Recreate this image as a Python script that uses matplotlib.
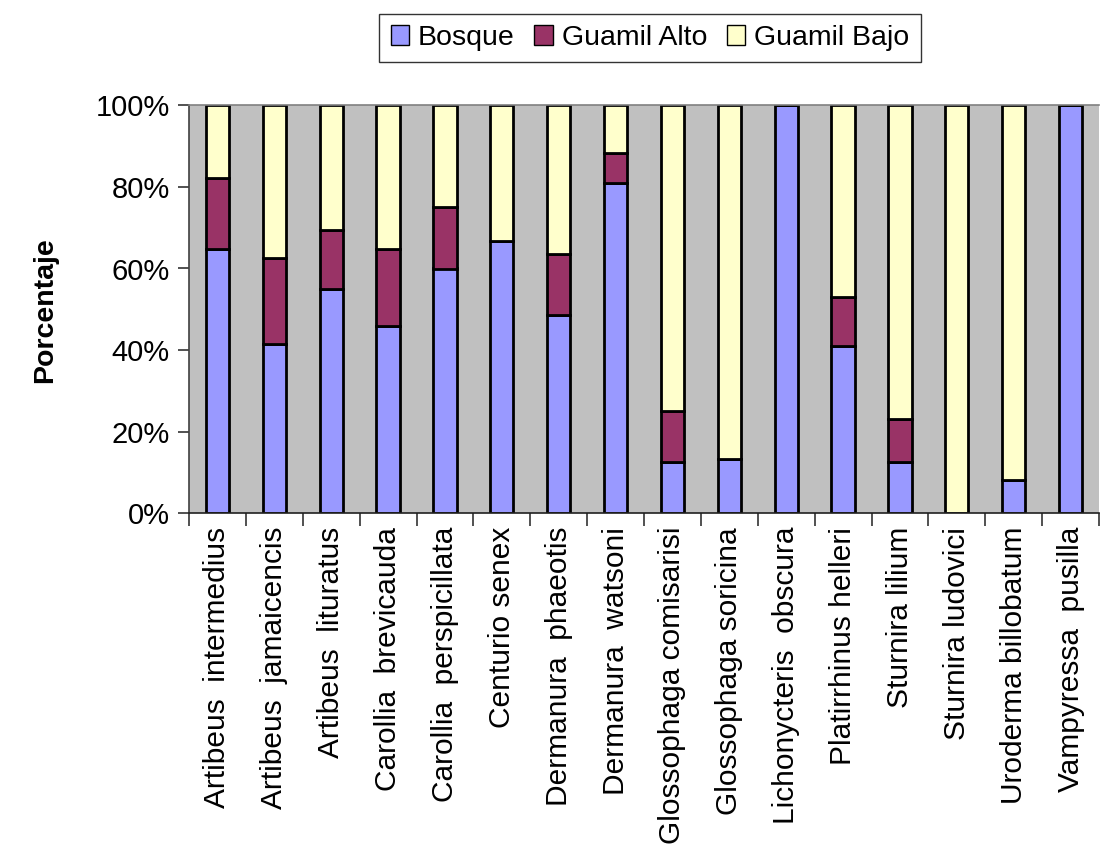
import matplotlib
matplotlib.use("Agg")
import matplotlib.pyplot as plt
import numpy as np

plt.rcParams['font.family'] = ['Liberation Sans', 'DejaVu Sans']

species = [
    "Artibeus  intermedius", "Artibeus  jamaicencis", "Artibeus  lituratus",
    "Carollia  brevicauda", "Carollia  perspicillata", "Centurio senex",
    "Dermanura  phaeotis", "Dermanura  watsoni", "Glossophaga comisarisi",
    "Glossophaga soricina", "Lichonycteris  obscura", "Platirrhinus helleri",
    "Sturnira lilium", "Sturnira ludovici", "Uroderma billobatum",
    "Vampyressa  pusilla",
]
bosque = [64.7, 41.4, 55.0, 46.0, 60.0, 66.7, 48.6, 81.0, 12.5, 13.2, 100.0, 41.0, 12.6, 0.0, 8.2, 100.0]
guamil_alto = [17.6, 21.2, 14.4, 18.9, 15.0, 0.0, 14.9, 7.3, 12.5, 0.0, 0.0, 12.1, 10.5, 0.0, 0.0, 0.0]
guamil_bajo = [100 - b - g for b, g in zip(bosque, guamil_alto)]

series = [("Bosque", bosque, "#9999FF"),
          ("Guamil Alto", guamil_alto, "#993366"),
          ("Guamil Bajo", guamil_bajo, "#FFFFCC")]

fig = plt.figure(figsize=(11.05, 8.46), dpi=100)
ax = fig.add_axes([189 / 1105, 1 - 513 / 846, (1099 - 189) / 1105, (513 - 105.5) / 846])
ax.set_facecolor("#C0C0C0")

x = np.arange(len(species))
bottom = np.zeros(len(species))
handles = []
for name, vals, color in series:
    vals = np.array(vals, dtype=float)
    h = ax.bar(x, vals, 0.41, bottom=bottom, color=color, edgecolor="black",
               linewidth=2.0, label=name, zorder=2)
    handles.append(h)
    bottom += vals

ax.set_xlim(-0.5, len(species) - 0.5)
ax.set_ylim(0, 100)
ax.set_yticks([0, 20, 40, 60, 80, 100])
ax.set_yticklabels(["0%", "20%", "40%", "60%", "80%", "100%"], fontsize=21)
ax.tick_params(axis="y", direction="out", length=8, width=1.2, color="#333333", pad=6)

ax.set_xticks(x)
ax.set_xticklabels(species, rotation=90, fontsize=21.5, va="top", ha="center")
ax.tick_params(axis="x", which="major", length=0, pad=10)
ax.set_xticks(np.arange(-0.5, len(species) + 0.5, 1.0), minor=True)
ax.tick_params(axis="x", which="minor", direction="out", length=9, width=1.2, color="#333333")

ax.spines["top"].set_color("#808080")
ax.spines["top"].set_linewidth(1.2)
ax.spines["right"].set_visible(False)
ax.spines["left"].set_color("#404040")
ax.spines["left"].set_linewidth(1.2)
ax.spines["bottom"].set_color("#202020")
ax.spines["bottom"].set_linewidth(1.2)

fig.text(45 / 1105, 1 - 310 / 846, "Porcentaje", rotation=90, fontsize=20.5,
         fontweight="bold", ha="center", va="center")

leg = fig.legend(handles=handles, loc="center", bbox_to_anchor=(650 / 1105, 1 - 38 / 846),
                 ncol=3, fontsize=20.5, frameon=True, fancybox=False, handlelength=0.65,
                 handleheight=0.65, handletextpad=0.3, columnspacing=0.7,
                 borderpad=0.4, edgecolor="black")
leg.get_frame().set_linewidth(1.0)
for p in leg.get_patches():
    p.set_linewidth(1.0)

fig.savefig("out.png", dpi=100, facecolor="white")
